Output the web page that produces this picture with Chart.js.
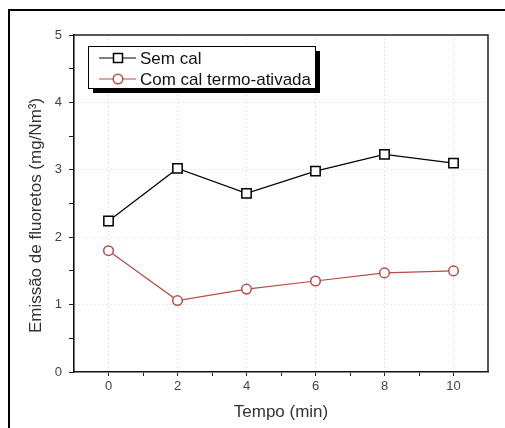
<!DOCTYPE html>
<html>
<head>
<meta charset="utf-8">
<script src="https://cdn.jsdelivr.net/npm/chart.js@4/dist/chart.umd.min.js"></script>
<style>
  body { margin: 0; background: #fff; }
  canvas { display: block; }
</style>
</head>
<body>
<canvas id="fluorChart" width="505" height="428"></canvas>
<script>
// data
const tempo = [0, 2, 4, 6, 8, 10];
const semCal = [2.24, 3.02, 2.65, 2.98, 3.23, 3.10];
const comCal = [1.80, 1.06, 1.23, 1.35, 1.47, 1.50];
const seriesNames = ['Sem cal', 'Com cal termo-ativada'];
const xTicks = [0, 2, 4, 6, 8, 10];
const yTicks = [0, 1, 2, 3, 4, 5];
const xTitle = 'Tempo (min)';
const yTitle = 'Emissão de fluoretos (mg/Nm³)';

const FONT = "'Liberation Sans', Arial, sans-serif";
const RED = '#b94a48';
const GRID = '#d6d6d6';

Chart.defaults.font.family = FONT;
Chart.defaults.color = '#333';

// outer frame, top/right frame of the plot, y title, legend with shadow
const decor = {
    id: 'decor',
    afterDraw(chart) {
        const ctx = chart.ctx;
        const a = chart.chartArea;
        ctx.save();

        // outer picture frame (runs off the right and bottom edges)
        ctx.strokeStyle = '#000';
        ctx.lineWidth = 2;
        ctx.strokeRect(9, 10, 520, 440);

        // top + right sides of the plot box
        ctx.strokeStyle = '#222';
        ctx.lineWidth = 1.5;
        ctx.beginPath();
        ctx.moveTo(a.left, a.top);
        ctx.lineTo(a.right, a.top);
        ctx.lineTo(a.right, a.bottom);
        ctx.stroke();

        // y axis title
        ctx.fillStyle = '#333';
        ctx.font = '17px ' + FONT;
        ctx.textAlign = 'center';
        ctx.textBaseline = 'middle';
        ctx.translate(36, (a.top + a.bottom) / 2 + 12);
        ctx.rotate(-Math.PI / 2);
        ctx.fillText(yTitle, 0, 0);
        ctx.restore();

        // legend box
        ctx.save();
        const bx = 88, by = 46, bw = 227, bh = 42;
        ctx.fillStyle = '#000';
        ctx.fillRect(bx + 5, by + 5, bw, bh);
        ctx.fillStyle = '#fff';
        ctx.fillRect(bx, by, bw, bh);
        ctx.strokeStyle = '#000';
        ctx.lineWidth = 1;
        ctx.strokeRect(bx + 0.5, by + 0.5, bw, bh);

        chart.data.datasets.forEach((ds, i) => {
            const y = by + 12 + i * 21;
            ctx.strokeStyle = ds.borderColor;
            ctx.lineWidth = 1.2;
            ctx.beginPath();
            ctx.moveTo(99, y);
            ctx.lineTo(136, y);
            ctx.stroke();

            ctx.fillStyle = '#fff';
            ctx.lineWidth = 1.5;
            ctx.beginPath();
            if (ds.pointStyle === 'rect') {
                ctx.rect(113.5, y - 4.5, 9, 9);
            } else {
                ctx.arc(118, y, 4.8, 0, Math.PI * 2);
            }
            ctx.fill();
            ctx.stroke();

            ctx.fillStyle = '#111';
            ctx.font = '17px ' + FONT;
            ctx.textAlign = 'left';
            ctx.textBaseline = 'middle';
            ctx.fillText(ds.label, 140, y + 1);
        });
        ctx.restore();
    }
};

new Chart(document.getElementById('fluorChart'), {
    type: 'line',
    data: {
        datasets: [{
            label: seriesNames[0],
            data: tempo.map((t, i) => ({ x: t, y: semCal[i] })),
            borderColor: '#000',
            borderWidth: 1.2,
            pointStyle: 'rect',
            pointRadius: 6.6,
            pointBorderWidth: 1.5,
            pointBackgroundColor: '#fff',
            pointBorderColor: '#000',
            tension: 0
        }, {
            label: seriesNames[1],
            data: tempo.map((t, i) => ({ x: t, y: comCal[i] })),
            borderColor: RED,
            borderWidth: 1.2,
            pointStyle: 'circle',
            pointRadius: 4.8,
            pointBorderWidth: 1.5,
            pointBackgroundColor: '#fff',
            pointBorderColor: RED,
            tension: 0
        }]
    },
    options: {
        responsive: false,
        animation: false,
        devicePixelRatio: 1,
        layout: { padding: { left: 0, top: 35, right: 17, bottom: 0 } },
        plugins: {
            legend: { display: false },
            tooltip: { enabled: false }
        },
        scales: {
            x: {
                type: 'linear',
                min: -1,
                max: 11,
                afterFit: scale => { scale.height = 56; },
                ticks: {
                    stepSize: 1,
                    autoSkip: false,
                    maxRotation: 0,
                    padding: 3,
                    color: '#444',
                    font: { size: 13 },
                    callback: v => xTicks.includes(v) ? String(v) : ''
                },
                grid: {
                    color: c => xTicks.includes(c.tick && c.tick.value) ? GRID : 'rgba(0,0,0,0)',
                    lineWidth: 1,
                    tickColor: c => (c.tick && (c.tick.value === -1 || c.tick.value === 11)) ? 'rgba(0,0,0,0)' : '#222',
                    tickLength: 4
                },
                border: { display: true, color: '#111', width: 1.6, dash: [1, 3] },
                title: {
                    display: true,
                    text: xTitle,
                    color: '#333',
                    font: { size: 17 },
                    padding: { top: 0, bottom: 5 }
                }
            },
            y: {
                min: 0,
                max: 5,
                afterFit: scale => { scale.width = 74; },
                ticks: {
                    stepSize: 0.5,
                    autoSkip: false,
                    padding: 7,
                    color: '#444',
                    font: { size: 13 },
                    callback: v => yTicks.includes(v) ? String(v) : ''
                },
                grid: {
                    color: c => {
                        const v = c.tick && c.tick.value;
                        return (yTicks.includes(v) && v !== 0 && v !== 5) ? GRID : 'rgba(0,0,0,0)';
                    },
                    lineWidth: 1,
                    tickColor: '#222',
                    tickLength: 5
                },
                border: { display: true, color: '#111', width: 1.6, dash: [1, 3] }
            }
        }
    },
    plugins: [decor]
});
</script>
</body>
</html>
